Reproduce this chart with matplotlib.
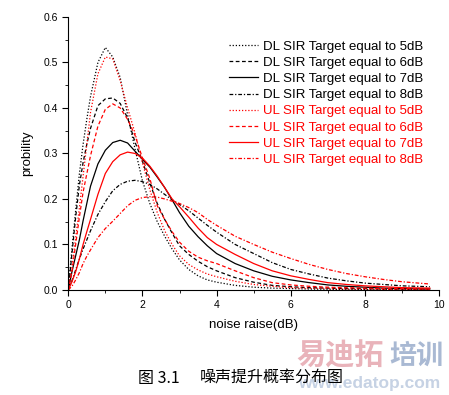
import matplotlib
matplotlib.use('Agg')
import matplotlib.pyplot as plt
from matplotlib.ticker import MultipleLocator, FormatStrFormatter

plt.rcParams['font.family'] = ['Liberation Sans', 'Noto Sans CJK SC', 'DejaVu Sans']

# noise raise (dB) sample points
x = [0, 0.1, 0.2, 0.3, 0.4, 0.5, 0.6, 0.8, 1.0, 1.2, 1.4, 1.6, 1.8, 2.0, 2.2, 2.4, 2.6, 2.8,
     3.0, 3.25, 3.5, 3.75, 4.0, 4.5, 5.0, 5.5, 6.0, 6.5, 7.0, 7.5, 8.0, 8.5, 9.0, 9.75]

dl5 = [0, 0.09, 0.175, 0.255, 0.32, 0.375, 0.425, 0.50, 0.533, 0.512, 0.467, 0.385, 0.31, 0.24,
       0.19, 0.15, 0.118, 0.09, 0.066, 0.045, 0.031, 0.022, 0.017, 0.010, 0.006, 0.004, 0.003,
       0.002, 0.0015, 0.001, 0.001, 0.0005, 0.0005, 0.0003]
dl6 = [0, 0.08, 0.16, 0.23, 0.28, 0.32, 0.355, 0.405, 0.42, 0.422, 0.41, 0.378, 0.325, 0.283,
       0.235, 0.19, 0.155, 0.125, 0.097, 0.078, 0.063, 0.051, 0.042, 0.027, 0.017, 0.010, 0.007,
       0.005, 0.004, 0.003, 0.003, 0.002, 0.002, 0.002]
dl7 = [0, 0.04, 0.075, 0.11, 0.152, 0.19, 0.228, 0.277, 0.307, 0.324, 0.329, 0.323, 0.305, 0.287,
       0.27, 0.248, 0.225, 0.198, 0.17, 0.14, 0.117, 0.097, 0.08, 0.058, 0.042, 0.030, 0.022,
       0.016, 0.011, 0.008, 0.006, 0.004, 0.003, 0.002]
dl8 = [0, 0.02, 0.044, 0.068, 0.09, 0.11, 0.13, 0.166, 0.194, 0.218, 0.232, 0.239, 0.241, 0.238,
       0.232, 0.222, 0.21, 0.198, 0.188, 0.174, 0.158, 0.142, 0.127, 0.10, 0.08, 0.06, 0.045,
       0.035, 0.026, 0.02, 0.015, 0.012, 0.009, 0.007]

ul5 = [0, 0.05, 0.115, 0.18, 0.25, 0.32, 0.39, 0.475, 0.512, 0.508, 0.46, 0.40, 0.345, 0.28,
       0.22, 0.17, 0.13, 0.10, 0.075, 0.056, 0.044, 0.035, 0.029, 0.019, 0.012, 0.008, 0.005,
       0.004, 0.003, 0.002, 0.002, 0.001, 0.001, 0.001]
ul6 = [0, 0.04, 0.10, 0.16, 0.215, 0.255, 0.295, 0.36, 0.397, 0.409, 0.40, 0.375, 0.34, 0.29,
       0.245, 0.185, 0.155, 0.128, 0.105, 0.085, 0.072, 0.064, 0.058, 0.042, 0.027, 0.016, 0.011,
       0.008, 0.006, 0.005, 0.004, 0.003, 0.003, 0.002]
ul7 = [0, 0.018, 0.04, 0.068, 0.10, 0.128, 0.155, 0.21, 0.256, 0.282, 0.297, 0.303, 0.30, 0.29,
       0.272, 0.25, 0.225, 0.20, 0.183, 0.16, 0.136, 0.115, 0.10, 0.078, 0.058, 0.042, 0.031,
       0.023, 0.016, 0.012, 0.009, 0.007, 0.005, 0.004]
ul8 = [0, 0.008, 0.022, 0.038, 0.058, 0.074, 0.088, 0.115, 0.135, 0.151, 0.168, 0.185, 0.197, 0.203,
       0.205, 0.204, 0.20, 0.195, 0.19, 0.181, 0.17, 0.155, 0.142, 0.118, 0.10, 0.083, 0.069,
       0.056, 0.045, 0.036, 0.029, 0.023, 0.018, 0.013]

labels = ['DL SIR Target equal to 5dB', 'DL SIR Target equal to 6dB',
          'DL SIR Target equal to 7dB', 'DL SIR Target equal to 8dB',
          'UL SIR Target equal to 5dB', 'UL SIR Target equal to 6dB',
          'UL SIR Target equal to 7dB', 'UL SIR Target equal to 8dB']

styles = [(0, (1, 1.5)), (0, (3, 2)), '-', (0, (3, 1.5, 1, 1.5))]

fig = plt.figure(figsize=(4.49, 3.95), dpi=100)
ax = fig.add_axes([0.152, 0.266, 0.826, 0.691])

series = [dl5, dl6, dl7, dl8, ul5, ul6, ul7, ul8]
for i, y in enumerate(series):
    col = 'black' if i < 4 else 'red'
    ax.plot(x, y, color=col, linestyle=styles[i % 4], lw=0.9, label=labels[i])

ax.set_xlim(0, 10)
ax.set_ylim(0, 0.6)
ax.xaxis.set_major_locator(MultipleLocator(2))
ax.xaxis.set_minor_locator(MultipleLocator(1))
ax.yaxis.set_major_locator(MultipleLocator(0.1))
ax.yaxis.set_minor_locator(MultipleLocator(0.05))
ax.yaxis.set_major_formatter(FormatStrFormatter('%.1f'))
ax.spines['top'].set_visible(False)
ax.spines['right'].set_visible(False)
ax.tick_params(which='major', direction='out', length=4, labelsize=7.5)
ax.tick_params(which='minor', direction='out', length=2.5)

ax.set_xlabel('noise raise(dB)', fontsize=9.5, labelpad=6)
ax.set_ylabel('probility', fontsize=9.5, labelpad=7)

leg = fig.legend(loc='upper left', bbox_to_anchor=(0.484, 0.928), frameon=False, fontsize=9.5,
                 handlelength=2.2, handletextpad=0.4, labelspacing=0.3)
for t, h in zip(leg.get_texts(), leg.legend_handles):
    t.set_color(h.get_color())

fig.text(0.307, 0.043, '图 3.1', fontsize=11.5, family=['Noto Sans CJK SC'], va='center')
fig.text(0.445, 0.043, '噪声提升概率分布图', fontsize=11.5, family=['Noto Sans CJK SC'], va='center')

# watermark
fig.text(0.659, 0.099, '易迪拓', fontsize=21, fontweight='bold', color='#e9b3ba',
         family=['Noto Sans CJK SC'], va='center', zorder=-1)
fig.text(0.866, 0.099, '培训', fontsize=19.5, fontweight='bold', color='#a9b9d3',
         family=['Noto Sans CJK SC'], va='center', zorder=-1)
fig.text(0.664, 0.030, 'www.edatop.com', fontsize=12.5, fontweight='bold', color='#c6d2e4',
         va='center', zorder=-1)

plt.savefig('out.png', dpi=100)
